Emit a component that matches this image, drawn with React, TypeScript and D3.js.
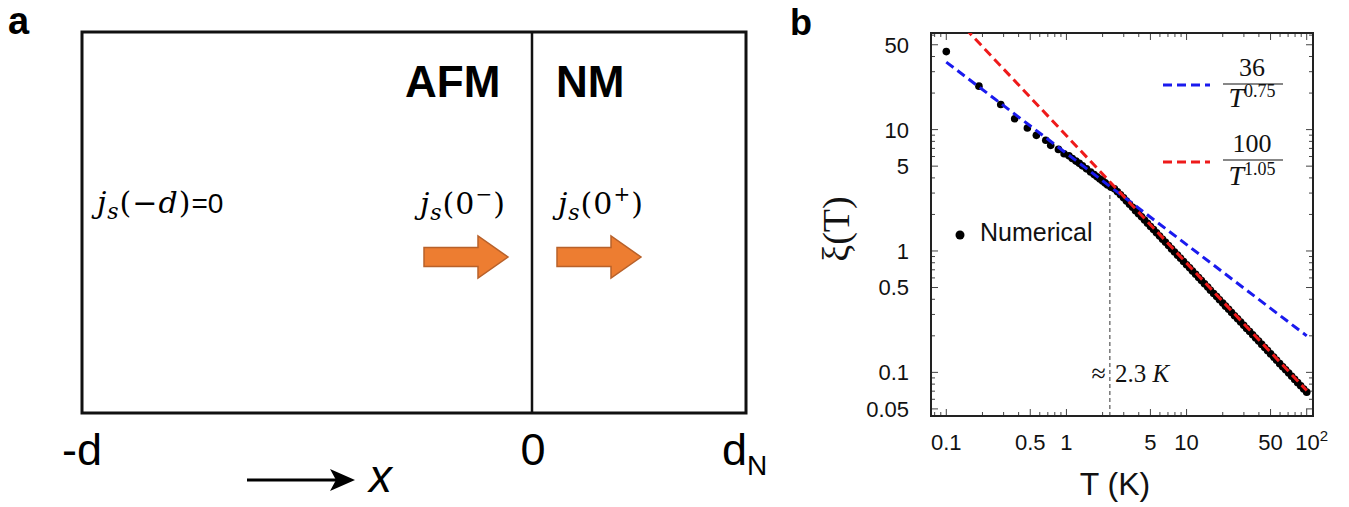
import React from 'react';
import * as d3 from 'd3';

const W = 1349;
const H = 507;

// ---- panel b data ----
const numericalT = [
  0.1, 0.187, 0.284, 0.371, 0.473, 0.562, 0.673, 0.74, 0.858, 0.956,
  1.05, 1.12, 1.2, 1.28, 1.36, 1.47, 1.59, 1.7, 1.8, 1.9, 2.0, 2.1, 2.2, 2.35,
  2.51, 2.66, 2.82, 2.99, 3.16, 3.35, 3.55, 3.76, 3.98, 4.22, 4.47, 4.73,
  5.01, 5.31, 5.62, 5.96, 6.31, 6.68, 7.08, 7.5, 7.94, 8.41, 8.91, 9.44,
  10, 10.6, 11.2, 11.9, 12.6, 13.3, 14.1, 15.0, 15.8, 16.8, 17.8, 18.8,
  20, 21.1, 22.4, 23.7, 25.1, 26.6, 28.2, 29.9, 31.6, 33.5, 35.5, 37.6,
  39.8, 42.2, 44.7, 47.3, 50.1, 53.1, 56.2, 59.6, 63.1, 66.8, 70.8, 75.0,
  79.4, 84.1, 89.1, 94.4, 100,
];
const numericalXi = [
  43.9, 22.8, 16.1, 12.3, 10.3, 8.97, 8.16, 7.42, 6.87, 6.33,
  6.08, 5.78, 5.5, 5.27, 5.03, 4.75, 4.48, 4.26, 4.08, 3.92, 3.78, 3.64, 3.5, 3.35,
  3.25, 3.08, 2.91, 2.74, 2.58, 2.43, 2.29, 2.15, 2.03, 1.91, 1.8, 1.69,
  1.59, 1.5, 1.41, 1.33, 1.25, 1.18, 1.11, 1.04, 0.982, 0.924, 0.87, 0.819,
  0.771, 0.726, 0.683, 0.643, 0.605, 0.57, 0.536, 0.505, 0.475, 0.447, 0.421, 0.396,
  0.373, 0.351, 0.331, 0.311, 0.293, 0.276, 0.26, 0.244, 0.23, 0.217, 0.204, 0.192,
  0.181, 0.17, 0.16, 0.151, 0.142, 0.134, 0.126, 0.118, 0.111, 0.105, 0.0988, 0.0929,
  0.0875, 0.0823, 0.0775, 0.073, 0.0687,
];
const blueFitT = [0.1, 100];
const blueFitXi = [36, 0.2];
const redFitT = [0.1, 100];
const redFitXi = [100, 0.0708];
const crossT = 2.3;
const crossXi = 3.6;

const xTickValues = [0.1, 0.5, 1, 5, 10, 50, 100];
const xTickLabels = ['0.1', '0.5', '1', '5', '10', '50', '10'];
const yTickValues = [0.05, 0.1, 0.5, 1, 5, 10, 50];
const yTickLabels = ['0.05', '0.1', '0.5', '1', '5', '10', '50'];

// frame of panel b
const PB = { left: 931, right: 1313, top: 33, bottom: 416 };

const sans = 'Liberation Sans, Arial, sans-serif';
const serif = 'Liberation Serif, Times New Roman, serif';
const mathSerif = 'DejaVu Serif, serif';

const PanelB = () => {
  const x = d3.scaleLog().domain([0.0746, 112.8]).range([PB.left, PB.right]);
  const y = d3.scaleLog().domain([0.0437, 62.5]).range([PB.bottom, PB.top]);
  const line = d3.line<[number, number]>().x(d => x(d[0])).y(d => y(d[1]));

  const blue = blueFitT.map((t, i) => [t, blueFitXi[i]] as [number, number]);
  const red = redFitT.map((t, i) => [t, redFitXi[i]] as [number, number]);

  const xMinor = x.ticks();
  const yMinor = y.ticks();
  const isMajor = (v: number, list: number[]) => list.some(m => Math.abs(m - v) / m < 1e-6);

  return (
    <g>
      <defs>
        <clipPath id="clipB">
          <rect x={PB.left} y={PB.top} width={PB.right - PB.left} height={PB.bottom - PB.top} />
        </clipPath>
      </defs>
      {/* ticks, inward on all sides */}
      {xMinor.map((v, i) => {
        const len = isMajor(v, xTickValues) ? 7 : 4;
        return (
          <g key={'xt' + i} stroke="#444" strokeWidth={1}>
            <line x1={x(v)} x2={x(v)} y1={PB.bottom} y2={PB.bottom - len} />
            <line x1={x(v)} x2={x(v)} y1={PB.top} y2={PB.top + len} />
          </g>
        );
      })}
      {yMinor.map((v, i) => {
        const len = isMajor(v, yTickValues) ? 7 : 4;
        return (
          <g key={'yt' + i} stroke="#444" strokeWidth={1}>
            <line x1={PB.left} x2={PB.left + len} y1={y(v)} y2={y(v)} />
            <line x1={PB.right} x2={PB.right - len} y1={y(v)} y2={y(v)} />
          </g>
        );
      })}
      <rect x={PB.left} y={PB.top} width={PB.right - PB.left} height={PB.bottom - PB.top}
        fill="none" stroke="#222" strokeWidth={2} />

      {/* tick labels */}
      {xTickValues.map((v, i) => (
        <text key={'xl' + i} x={x(v) + (v === 100 ? 5 : 0)} y={450} textAnchor="middle"
          fontFamily={sans} fontSize={22} fill="#111">
          {xTickLabels[i]}
          {v === 100 && <tspan dy={-9} fontSize={15}>2</tspan>}
        </text>
      ))}
      {yTickValues.map((v, i) => (
        <text key={'yl' + i} x={909} y={y(v)} dy="0.36em" textAnchor="end"
          fontFamily={sans} fontSize={22} fill="#111">
          {yTickLabels[i]}
        </text>
      ))}

      {/* axis titles */}
      <text x={1115} y={495} textAnchor="middle" fontFamily={sans} fontSize={32} fill="#111">T (K)</text>
      <text transform="translate(849,229) rotate(-90)" textAnchor="middle" fontFamily={serif}
        fontSize={38} fill="#111">ξ(T)</text>

      {/* crossover marker */}
      <line x1={x(crossT)} x2={x(crossT)} y1={PB.bottom} y2={y(crossXi) + 10}
        stroke="#333" strokeWidth={1} strokeDasharray="4,3" />
      <text x={x(crossT) - 4} y={382} textAnchor="end" fontFamily={serif} fontSize={26} fill="#111">≈</text>
      <text x={x(crossT) + 5} y={382} fontFamily={serif} fontSize={25} fill="#111">
        2.3 <tspan fontStyle="italic">K</tspan>
      </text>

      <g clipPath="url(#clipB)">
        {numericalT.map((t, i) => (
          <circle key={'p' + i} cx={x(t)} cy={y(numericalXi[i])} r={3.8} fill="#000" />
        ))}
        <path d={line(blue) || ''} fill="none" stroke="#1a1aee" strokeWidth={3} strokeDasharray="9,5" />
        <path d={line(red) || ''} fill="none" stroke="#ee1a1a" strokeWidth={3} strokeDasharray="9,5" />
      </g>

      {/* legend */}
      <line x1={1163} x2={1210} y1={85} y2={85} stroke="#1a1aee" strokeWidth={3} strokeDasharray="9,5" />
      <text x={1252} y={76} textAnchor="middle" fontFamily={serif} fontSize={26} fill="#111">36</text>
      <line x1={1223} x2={1283} y1={84} y2={84} stroke="#111" strokeWidth={1.2} />
      <text x={1252} y={107} textAnchor="middle" fontFamily={serif} fontSize={28} fill="#111">
        <tspan fontStyle="italic">T</tspan><tspan dy={-10} fontSize={18}>0.75</tspan>
      </text>

      <line x1={1163} x2={1210} y1={162} y2={162} stroke="#ee1a1a" strokeWidth={3} strokeDasharray="9,5" />
      <text x={1252} y={152} textAnchor="middle" fontFamily={serif} fontSize={26} fill="#111">100</text>
      <line x1={1223} x2={1283} y1={160} y2={160} stroke="#111" strokeWidth={1.2} />
      <text x={1252} y={185} textAnchor="middle" fontFamily={serif} fontSize={28} fill="#111">
        <tspan fontStyle="italic">T</tspan><tspan dy={-10} fontSize={18}>1.05</tspan>
      </text>

      <circle cx={960} cy={235} r={4.5} fill="#000" />
      <text x={980} y={241} fontFamily={sans} fontSize={25} fill="#111">Numerical</text>
    </g>
  );
};

// ---- panel a: schematic ----
const PA = { left: 82, mid: 532, right: 746, top: 32, bottom: 413 };

const Arrow = ({ x0, y0 }: { x0: number; y0: number }) => {
  const pts = [
    [x0, y0 - 9.5], [x0 + 54, y0 - 9.5], [x0 + 54, y0 - 21], [x0 + 84, y0],
    [x0 + 54, y0 + 21], [x0 + 54, y0 + 9.5], [x0, y0 + 9.5],
  ];
  return <polygon points={pts.map(p => p.join(',')).join(' ')} fill="#ED7D31" stroke="#B8612A" strokeWidth={1.5} />;
};

const PanelA = () => (
  <g>
    <rect x={PA.left} y={PA.top} width={PA.right - PA.left} height={PA.bottom - PA.top}
      fill="none" stroke="#111" strokeWidth={3} />
    <line x1={PA.mid} x2={PA.mid} y1={PA.top} y2={PA.bottom} stroke="#111" strokeWidth={2.5} />

    <text x={405} y={97} fontFamily={sans} fontWeight="bold" fontSize={44} fill="#000">AFM</text>
    <text x={556} y={97} fontFamily={sans} fontWeight="bold" fontSize={44} fill="#000">NM</text>

    <text x={97} y={213} fontFamily={mathSerif} fontSize={30} fill="#000" letterSpacing={1}>
      <tspan fontStyle="italic">j</tspan>
      <tspan fontStyle="italic" fontSize={22} dy={6}>s</tspan>
      <tspan dy={-6}>(−</tspan><tspan fontStyle="italic">d</tspan><tspan>)</tspan>
      <tspan fontFamily={sans} fontSize={28} letterSpacing={0}>=0</tspan>
    </text>
    <text x={420} y={214} fontFamily={mathSerif} fontSize={30} fill="#000" letterSpacing={1}>
      <tspan fontStyle="italic">j</tspan>
      <tspan fontStyle="italic" fontSize={22} dy={6}>s</tspan>
      <tspan dy={-6}>(0</tspan><tspan fontSize={20} dy={-13}>−</tspan><tspan dy={13}>)</tspan>
    </text>
    <text x={558} y={214} fontFamily={mathSerif} fontSize={30} fill="#000" letterSpacing={1}>
      <tspan fontStyle="italic">j</tspan>
      <tspan fontStyle="italic" fontSize={22} dy={6}>s</tspan>
      <tspan dy={-6}>(0</tspan><tspan fontSize={20} dy={-13}>+</tspan><tspan dy={13}>)</tspan>
    </text>

    <Arrow x0={424} y0={257} />
    <Arrow x0={557} y0={257} />

    <text x={PA.left} y={465} textAnchor="middle" fontFamily={sans} fontSize={45} fill="#000">-d</text>
    <text x={PA.mid + 1} y={465} textAnchor="middle" fontFamily={sans} fontSize={45} fill="#000">0</text>
    <text x={722} y={465} fontFamily={sans} fontSize={45} fill="#000">
      d<tspan fontSize={28} dy={10}>N</tspan>
    </text>

    <line x1={247} x2={340} y1={480} y2={480} stroke="#000" strokeWidth={3} />
    <polygon points="330,469 355,480 330,491 336,480" fill="#000" />
    <text x={369} y={492} fontFamily={sans} fontStyle="italic" fontSize={46} fill="#000">x</text>
  </g>
);

const App = () => (
  <svg width={W} height={H} viewBox={`0 0 ${W} ${H}`}
    style={{ position: 'absolute', left: 0, top: 0, background: '#fff' }}>
    <rect width={W} height={H} fill="#fff" />
    <text x={8} y={34} fontFamily={sans} fontWeight="bold" fontSize={38} fill="#000">a</text>
    <text x={790} y={35} fontFamily={sans} fontWeight="bold" fontSize={36} fill="#000">b</text>
    <PanelA />
    <PanelB />
  </svg>
);

export default App;
